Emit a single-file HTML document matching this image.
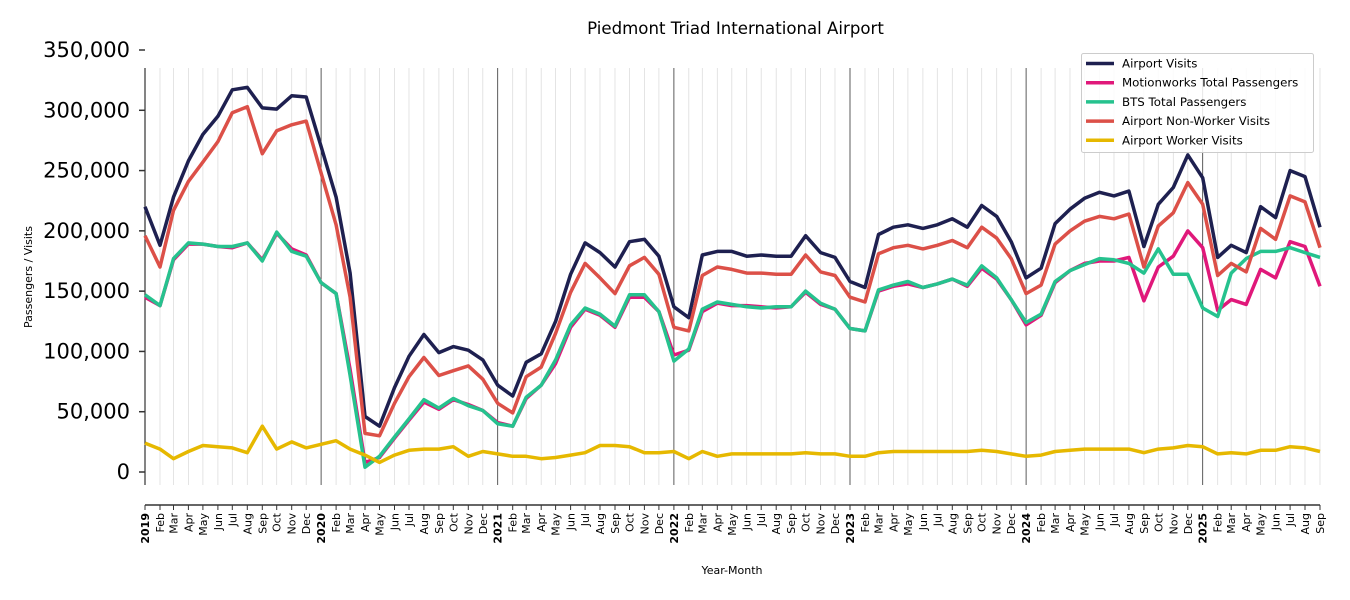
<!DOCTYPE html>
<html><head><meta charset="utf-8"><style>
body{margin:0;background:#fff;}
svg{display:block;font-family:"DejaVu Sans","Liberation Sans",sans-serif;}
</style></head><body>
<svg id="c" width="1350" height="600" xmlns="http://www.w3.org/2000/svg"></svg>
<script>
const svg=document.getElementById('c');
let h='';
const X0=145,W=1175,TOT=Date.UTC(2025,8,1)-Date.UTC(2019,0,1);
function xm(i){const y=2019+Math.floor(i/12),m=i%12;return X0+(Date.UTC(y,m,1)-Date.UTC(2019,0,1))/TOT*W;}
function yv(v){return 472-v*422/350;}
const N=81;
const mn=['Jan','Feb','Mar','Apr','May','Jun','Jul','Aug','Sep','Oct','Nov','Dec'];
h+='<text x="735.5" y="34" font-size="16.6" text-anchor="middle">Piedmont Triad International Airport</text>';
for(let i=0;i<N;i++){const x=xm(i).toFixed(1);
 if(i%12==0&&i>0)h+=`<line x1="${x}" y1="68" x2="${x}" y2="485" stroke="#333" stroke-width="0.8"/>`;
 else if(i>0)h+=`<line x1="${x}" y1="68" x2="${x}" y2="485" stroke="#ddd" stroke-width="0.8"/>`;
 h+=`<line x1="${x}" y1="505" x2="${x}" y2="510" stroke="#333" stroke-width="1"/>`;
 const lab=i%12==0?(2019+i/12):mn[i%12];
 h+=`<text transform="translate(${(+x+4).toFixed(1)},513) rotate(-90)" font-size="11" text-anchor="end" ${i%12==0?'font-weight="bold"':''}>${lab}</text>`;
}
h+='<line x1="145" y1="68" x2="145" y2="485" stroke="#333" stroke-width="1.2"/>';
h+='<line x1="145" y1="505" x2="1320" y2="505" stroke="#333" stroke-width="1.5"/>';
for(let v=0;v<=350;v+=50){const y=yv(v);
 h+=`<line x1="139" y1="${y}" x2="145" y2="${y}" stroke="#333" stroke-width="1.5"/>`;
 h+=`<text x="130" y="${y+7}" font-size="21" text-anchor="end">${v==0?'0':v+',000'}</text>`;}
h+='<text transform="translate(32,277) rotate(-90)" font-size="11" text-anchor="middle">Passengers / Visits</text>';
h+='<text x="732" y="574" font-size="11" text-anchor="middle">Year-Month</text>';
const D={
'#1e2050':[220,188,228,258,280,295,317,319,302,301,312,311,270,228,165,46,38,70,96,114,99,104,101,93,72,63,91,98,125,164,190,182,170,191,193,179,137,128,180,183,183,179,180,179,179,196,182,178,158,153,197,203,205,202,205,210,203,221,212,191,161,169,206,218,227,232,229,233,187,222,236,263,244,178,188,182,220,211,250,245,203],
'#e0187a':[145,138,176,189,189,187,186,190,176,198,185,180,157,148,85,8,12,28,43,58,52,60,56,51,41,38,61,72,90,120,135,130,120,145,145,133,97,101,133,140,138,138,137,136,137,149,139,135,119,117,150,154,156,153,156,160,154,169,160,143,122,130,157,167,173,175,175,178,142,170,179,200,186,134,143,139,168,161,191,187,154],
'#26c28e':[147,138,177,190,189,187,187,190,175,199,183,179,157,148,80,4,13,29,44,60,53,61,55,51,40,38,62,72,93,122,136,131,121,147,147,133,92,102,135,141,139,137,136,137,137,150,140,135,119,117,151,155,158,153,156,160,155,171,161,143,124,131,158,167,172,177,176,173,165,185,164,164,136,129,165,177,183,183,186,182,178],
'#dc5048':[196,170,217,241,257,274,298,303,264,283,288,291,248,205,145,32,30,57,79,95,80,84,88,77,57,49,79,87,115,149,173,161,148,171,178,164,120,117,163,170,168,165,165,164,164,180,166,163,145,141,181,186,188,185,188,192,186,203,194,177,148,155,189,200,208,212,210,214,170,204,215,240,222,163,173,166,202,193,229,224,186],
'#e6b800':[24,19,11,17,22,21,20,16,38,19,25,20,23,26,19,14,8,14,18,19,19,21,13,17,15,13,13,11,12,14,16,22,22,21,16,16,17,11,17,13,15,15,15,15,15,16,15,15,13,13,16,17,17,17,17,17,17,18,17,15,13,14,17,18,19,19,19,19,16,19,20,22,21,15,16,15,18,18,21,20,17]};
for(const c in D){const p=D[c].map((v,i)=>xm(i).toFixed(1)+','+yv(v).toFixed(1)).join(' ');
 h+=`<polyline points="${p}" fill="none" stroke="${c}" stroke-width="3.5" stroke-linejoin="round"/>`;}
h+='<rect x="1081.5" y="53.5" width="232" height="99" rx="2" fill="#fff" fill-opacity="0.85" stroke="#ccc"/>';
const L=[['#1e2050','Airport Visits'],['#e0187a','Motionworks Total Passengers'],['#26c28e','BTS Total Passengers'],['#dc5048','Airport Non-Worker Visits'],['#e6b800','Airport Worker Visits']];
L.forEach((l,k)=>{const y=63.5+k*19.2;
 h+=`<line x1="1086" y1="${y}" x2="1114" y2="${y}" stroke="${l[0]}" stroke-width="3.5"/>`;
 h+=`<text x="1122" y="${y+4}" font-size="11.8">${l[1]}</text>`;});
svg.innerHTML=h;
</script>
</body></html>
